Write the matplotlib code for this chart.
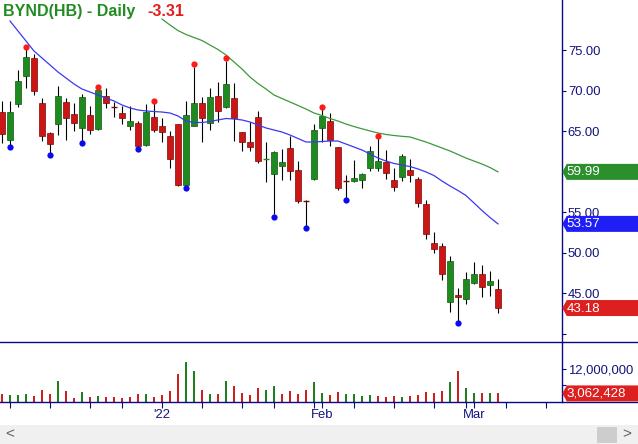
import matplotlib
matplotlib.use('Agg')
import matplotlib.pyplot as plt
import numpy as np
import pandas as pd
from matplotlib.patches import Polygon, Rectangle
from matplotlib.lines import Line2D
from matplotlib.transforms import ScaledTranslation, IdentityTransform

plt.rcParams['font.family'] = ['Liberation Sans', 'DejaVu Sans']

# ---------------- data ----------------
symbol = "BYND(HB)"
period = "Daily"
start_date = '2021-12-03'
end_date = '2022-03-18'
holidays = ['2021-12-24', '2022-01-17', '2022-02-21']

opens = [67.35, 63.89, 68.41, 71.86, 74.01, 68.46, 64.75, 65.86, 68.58, 67.10,
         65.44, 67.01, 65.25, 69.40, 68.02, 67.22, 65.62, 65.99, 63.27, 66.73,
         65.62, 64.42, 65.86, 58.41, 65.62, 68.46, 65.99, 69.40, 68.04, 69.07,
         64.88, 63.64, 66.73, 61.52, 59.69, 60.75, 62.98, 60.19, 56.46, 59.07,
         65.37, 66.27, 63.03, 58.88, 58.86, 58.99, 60.51, 60.43, 61.17, 58.95,
         59.32, 60.22, 59.11, 56.03, 51.21, 50.84, 43.96, 44.79, 44.26, 46.31,
         47.35, 45.99, 45.49]
highs = [68.74, 68.74, 72.57, 75.14, 74.54, 69.15, 64.95, 70.59, 69.15, 68.46,
         69.57, 68.16, 70.10, 70.31, 68.65, 68.12, 68.12, 66.27, 68.37, 68.49,
         66.61, 65.00, 65.90, 68.74, 72.96, 69.27, 70.31, 71.05, 73.70, 71.00,
         64.90, 66.19, 67.54, 63.72, 62.57, 62.82, 64.42, 61.37, 56.50, 65.86,
         67.75, 67.22, 63.05, 59.61, 61.46, 59.80, 63.22, 64.17, 62.69, 60.43,
         62.20, 61.58, 59.32, 56.52, 52.53, 51.21, 49.61, 45.62, 47.63, 48.86,
         48.49, 47.72, 46.77]
lows = [63.52, 63.33, 67.96, 70.31, 69.48, 63.84, 62.38, 64.54, 63.89, 65.07,
        63.83, 64.63, 65.20, 67.84, 66.80, 65.86, 65.16, 63.16, 63.22, 64.91,
        63.68, 60.43, 58.25, 58.31, 65.60, 63.72, 65.16, 66.19, 67.88, 63.84,
        62.61, 62.61, 61.12, 58.78, 54.79, 58.93, 58.99, 56.11, 53.33, 59.02,
        63.72, 63.22, 57.75, 56.79, 58.80, 58.04, 60.10, 60.14, 59.07, 57.67,
        58.90, 58.70, 55.69, 51.74, 49.94, 46.68, 42.65, 41.64, 43.68, 46.15,
        44.58, 44.67, 42.61]
closes = [64.63, 67.35, 71.21, 74.14, 70.01, 64.46, 63.40, 69.32, 66.68, 66.06,
          69.23, 65.20, 70.05, 68.53, 68.00, 66.68, 66.27, 63.22, 67.35, 65.12,
          64.88, 61.54, 58.41, 66.98, 68.46, 66.61, 69.27, 67.54, 70.84, 66.61,
          63.72, 63.10, 61.37, 61.54, 62.41, 61.17, 60.14, 56.43, 56.42, 65.16,
          66.93, 63.96, 57.96, 58.86, 59.20, 59.77, 62.61, 61.37, 59.81, 58.09,
          61.95, 59.64, 56.11, 52.28, 50.51, 47.35, 48.95, 44.51, 46.73, 47.38,
          45.81, 46.49, 43.18]
volumes = [2960000, 2600000, 2600000, 2960000, 2200000, 4300000, 2960000, 7700000, 4070000, 1500000,
           3700000, 1850000, 2200000, 1850000, 1850000, 1500000, 1850000, 3000000, 3000000, 1850000,
           2600000, 4000000, 10200000, 14700000, 11400000, 4300000, 3000000, 3000000, 7700000, 5800000,
           3300000, 2600000, 5200000, 4400000, 5900000, 3000000, 4100000, 3000000, 4400000, 7400000,
           3300000, 2600000, 3700000, 3000000, 3000000, 2200000, 2600000, 2200000, 1850000, 2200000,
           1850000, 2200000, 2600000, 3700000, 3300000, 4100000, 7400000, 11500000, 5200000, 3300000,
           3300000, 3300000, 3062428]

ma_short_start = 1
ma_short = [78.62, 77.38, 76.15, 74.91, 74.05, 73.19, 72.32, 71.58, 70.84, 70.22,
            69.85, 69.48, 69.11, 68.74, 68.25, 67.88, 67.63, 67.51, 67.44, 67.38,
            67.26, 66.89, 66.27, 66.09, 66.09, 66.21, 66.40, 66.58, 66.52, 66.40,
            66.15, 65.78, 65.41, 65.16, 64.91, 64.54, 64.11, 63.68, 63.68, 63.74,
            63.80, 63.80, 63.43, 63.06, 62.69, 62.20, 61.70, 61.33, 61.03, 60.84,
            60.65, 60.35, 59.98, 59.54, 58.86, 58.25, 57.69, 57.07, 56.15, 55.22,
            54.36, 53.57]
ma_long_start = 20
ma_long = [78.86, 78.12, 77.44, 76.95, 76.58, 76.21, 75.65, 75.10, 74.42, 73.56,
           72.69, 71.70, 70.90, 70.22, 69.48, 69.05, 68.62, 68.19, 67.75, 67.26,
           66.95, 66.58, 66.27, 65.90, 65.59, 65.31, 65.04, 64.79, 64.61, 64.48,
           64.38, 64.30, 63.99, 63.68, 63.31, 62.94, 62.57, 62.14, 61.70, 61.33,
           60.96, 60.53, 59.99]

swing_high_idx = [3, 12, 19, 24, 28, 40, 47]
swing_low_idx = [1, 6, 10, 17, 23, 34, 38, 43, 57]

price_ticks = [40, 45, 50, 55, 60, 65, 70, 75]
price_tick_labels = ['', '45.00', '50.00', '55.00', '', '65.00', '70.00', '75.00']
vol_ticks = [6000000, 12000000]
vol_tick_labels = ['', '12,000,000']

# ---------------- style ----------------
NAVY = '#0a0a80'
TXT = '#14147a'
G_FACE, G_EDGE = '#1f8a1f', '#0e5a0e'
R_FACE, R_EDGE = '#cc1616', '#7a0808'
V_GREEN, V_RED = '#1f7f1f', '#cc2020'
MA_BLUE, MA_GREEN = '#3a3aee', '#3a9a3a'
DOT_RED, DOT_BLUE = '#ff1a1a', '#0a0af0'
BOX_GREEN, BOX_BLUE, BOX_RED = '#2b8f2b', '#1f1ff5', '#dc2020'

W, H = 638, 444
AXIS_X, SEP_Y, BASE_Y = 562.3, 341.7, 401.7

fig = plt.figure(figsize=(W / 100, H / 100), dpi=100)
fig.patch.set_facecolor('white')

def fx(px):
    return px / W

def fy(py):
    return 1 - py / H

ax = fig.add_axes([0, fy(SEP_Y), fx(AXIS_X), SEP_Y / H])
axv = fig.add_axes([0, fy(BASE_Y), fx(AXIS_X), (BASE_Y - SEP_Y) / H], sharex=ax)

o = np.array(opens); h = np.array(highs); l = np.array(lows); c = np.array(closes)
v = np.array(volumes, dtype=float)
n = len(o)
x = np.arange(n)

# dates / ticks
days = pd.bdate_range(start_date, end_date)
days = days[~days.isin(pd.to_datetime(holidays))]
week_ticks, month_ticks, month_labels = [], [], []
for i in range(1, len(days)):
    if days[i].isocalendar()[1] != days[i - 1].isocalendar()[1]:
        week_ticks.append(i)
    if days[i].month != days[i - 1].month:
        month_ticks.append(i)
        month_labels.append("'" + days[i].strftime('%y') if days[i].year != days[i - 1].year
                            else days[i].strftime('%b'))
minor_ticks = [t for t in week_ticks if t not in month_ticks]

# candles
up = c >= o
doji = np.abs(c - o) < 0.1
ax.vlines(x, l, h, color='black', lw=0.8, zorder=2)
nb = ~doji
ax.bar(x[nb], np.abs(c - o)[nb], bottom=np.minimum(o, c)[nb], width=0.78,
       color=np.where(up, G_FACE, R_FACE)[nb], edgecolor=np.where(up, G_EDGE, R_EDGE)[nb],
       lw=0.5, zorder=3)
ax.hlines(c[doji], x[doji] - 0.42, x[doji] + 0.42,
          colors=np.where(up, G_FACE, R_EDGE)[doji], lw=1.0, zorder=3)

# moving averages
ax.plot(x[ma_short_start:ma_short_start + len(ma_short)], ma_short, color=MA_BLUE, lw=0.9, zorder=4)
ax.plot(x[ma_long_start:ma_long_start + len(ma_long)], ma_long, color=MA_GREEN, lw=0.9, zorder=4)

# swing dots
off_up = ScaledTranslation(0, 2.5 / 100, fig.dpi_scale_trans)
off_dn = ScaledTranslation(0, -2.5 / 100, fig.dpi_scale_trans)
ax.plot(x[swing_high_idx], h[swing_high_idx], 'o', ms=4.5, color=DOT_RED, mec='none',
        transform=ax.transData + off_up, zorder=6)
ax.plot(x[swing_low_idx], l[swing_low_idx], 'o', ms=4.5, color=DOT_BLUE, mec='none',
        transform=ax.transData + off_dn, zorder=6)

# volume
prev = np.concatenate([[o[0]], c[:-1]])
vup = c > prev
axv.bar(x, v, width=0.32, color=np.where(vup, V_GREEN, V_RED), zorder=3)

# axes limits
ax.set_xlim(-0.25, 70.04)
ax.set_ylim(39.025, 81.21)
axv.set_ylim(0, 22.22e6)

for a in (ax, axv):
    a.set_facecolor('white')
    for s in ('top', 'left', 'bottom'):
        a.spines[s].set_visible(False)
    a.spines['right'].set_color(NAVY)
    a.spines['right'].set_linewidth(1.0)
    a.yaxis.tick_right()
    a.tick_params(axis='y', direction='out', length=3.2, width=0.8, color=NAVY,
                  labelcolor=TXT, labelsize=9.4, pad=0.8)

ax.set_yticks(price_ticks, price_tick_labels)
axv.set_yticks(vol_ticks, vol_tick_labels)

axv.set_xticks(month_ticks, month_labels)
axv.set_xticks(minor_ticks, minor=True)
axv.tick_params(axis='x', which='both', direction='out', length=4, width=0.8, color=NAVY,
                labelcolor=TXT, labelsize=9.4, pad=1.5)
ax.tick_params(axis='x', which='both', bottom=False, labelbottom=False)

# full-width horizontal rules
for yy in (SEP_Y, BASE_Y):
    fig.add_artist(Line2D([0, 1], [fy(yy), fy(yy)], transform=fig.transFigure, color=NAVY, lw=1.0, zorder=5))

# value boxes
def value_box(axis, val, txt, color):
    yd = axis.transData.transform((0, val))[1]
    x0 = AXIS_X
    pts = [(x0, yd), (x0 + 4.5, yd + 8), (W, yd + 8), (W, yd - 8), (x0 + 4.5, yd - 8)]
    fig.add_artist(Polygon(pts, closed=True, transform=IdentityTransform(), fc=color, ec='none', zorder=20))
    fig.text(x0 + 4.3, yd - 0.5, txt, transform=IdentityTransform(), color='white', fontsize=9.6,
             va='center', ha='left', zorder=21)

value_box(ax, ma_long[-1], f"{ma_long[-1]:.2f}", BOX_GREEN)
value_box(ax, ma_short[-1], f"{ma_short[-1]:.2f}", BOX_BLUE)
value_box(ax, closes[-1], f"{closes[-1]:.2f}", BOX_RED)
value_box(axv, volumes[-1], f"{int(volumes[-1]):,}", BOX_RED)

# title
change = closes[-1] - closes[-2]
fig.text(fx(3), fy(16), f"{symbol} - {period}", color='#228b22', fontsize=11.5, fontweight='bold',
         ha='left', va='baseline', zorder=22)
fig.text(fx(147), fy(16), f"{change:.2f}", color='#e01e1e', fontsize=11.5, fontweight='bold',
         ha='left', va='baseline', zorder=22)

# scrollbar
fig.add_artist(Rectangle((0, 0), 1, (H - 425) / H, transform=fig.transFigure, fc='#f0f0f0', ec='none', zorder=1))
fig.add_artist(Rectangle((fx(597), fy(443)), fx(617) - fx(597), 16 / H, transform=fig.transFigure,
                         fc='#cdcdcd', ec='none', zorder=2))
fig.text(fx(10), fy(434.5), '<', color='#606060', fontsize=11, ha='center', va='center', zorder=3)
fig.text(fx(627), fy(434.5), '>', color='#606060', fontsize=11, ha='center', va='center', zorder=3)

fig.savefig('out.png', dpi=100)
